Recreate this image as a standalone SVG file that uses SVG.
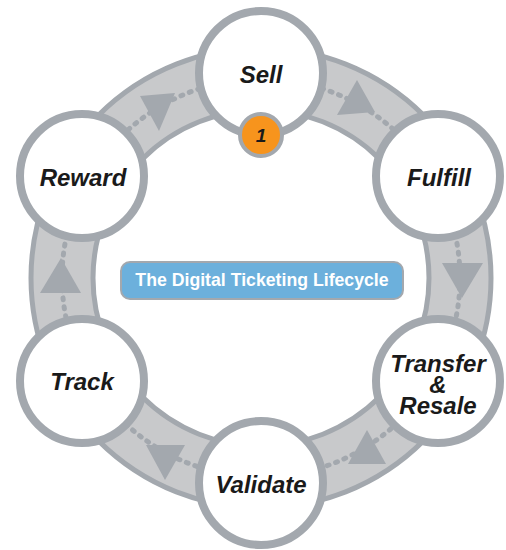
<svg xmlns="http://www.w3.org/2000/svg" width="506" height="550" viewBox="0 0 506 550">
<style>
.node{fill:#ffffff;stroke:#a3a8ae;stroke-width:8}
.lbl{font-family:"Liberation Sans",Arial,sans-serif;font-weight:bold;font-style:italic;font-size:24px;fill:#1a1a1a;text-anchor:middle}
.arr{fill:#a3a8ae}
</style>
<rect width="506" height="550" fill="#ffffff"/>
<g id="connectors">
<path d="M31,278 a230,230 0 1,0 460,0 a230,230 0 1,0 -460,0 Z M93,278 a168,168 0 1,0 336,0 a168,168 0 1,0 -336,0 Z" fill="#c8c9cb" fill-rule="evenodd" stroke="#a3a8ae" stroke-width="5"/>
<circle cx="261" cy="278" r="199" fill="none" stroke="#a3a8ae" stroke-width="5" stroke-linecap="round" stroke-dasharray="2 7"/>
<polygon class="arr" points="140,96 175,93 159,131"/>
<polygon class="arr" points="357,80 337,115 375,112"/>
<polygon class="arr" points="442,263 483,263 462,298"/>
<polygon class="arr" points="367,430 348,464 386,464"/>
<polygon class="arr" points="146,445 185,445 165,480"/>
<polygon class="arr" points="61,258 40,293 81,293"/>
</g>
<g id="sell">
<circle class="node" cx="261" cy="73" r="62"/>
<text class="lbl" x="261" y="83">Sell</text>
</g>
<g id="fulfill">
<circle class="node" cx="438" cy="176" r="62"/>
<text class="lbl" x="439" y="186">Fulfill</text>
</g>
<g id="transfer">
<circle class="node" cx="438" cy="381" r="62"/>
<text class="lbl" x="438" y="372">Transfer</text>
<text class="lbl" x="438" y="393">&amp;</text>
<text class="lbl" x="438" y="414">Resale</text>
</g>
<g id="validate">
<circle class="node" cx="261" cy="483" r="62"/>
<text class="lbl" x="261" y="493">Validate</text>
</g>
<g id="track">
<circle class="node" cx="82" cy="381" r="62"/>
<text class="lbl" x="82" y="390">Track</text>
</g>
<g id="reward">
<circle class="node" cx="82" cy="176" r="62"/>
<text class="lbl" x="83" y="186">Reward</text>
</g>
<g id="badge">
<circle cx="261" cy="135" r="21" fill="#f7941d" stroke="#a3a8ae" stroke-width="4"/>
<text x="261" y="142" font-family="Liberation Sans,Arial,sans-serif" font-weight="bold" font-style="italic" font-size="19" fill="#1a1a1a" text-anchor="middle">1</text>
</g>
<g id="title">
<rect x="121" y="262" width="282" height="37" rx="9" fill="#6cb0dc" stroke="#a3a8ae" stroke-width="2"/>
<text x="262" y="286" font-family="Liberation Sans,Arial,sans-serif" font-weight="bold" font-size="17.7" fill="#ffffff" text-anchor="middle">The Digital Ticketing Lifecycle</text>
</g>
</svg>
